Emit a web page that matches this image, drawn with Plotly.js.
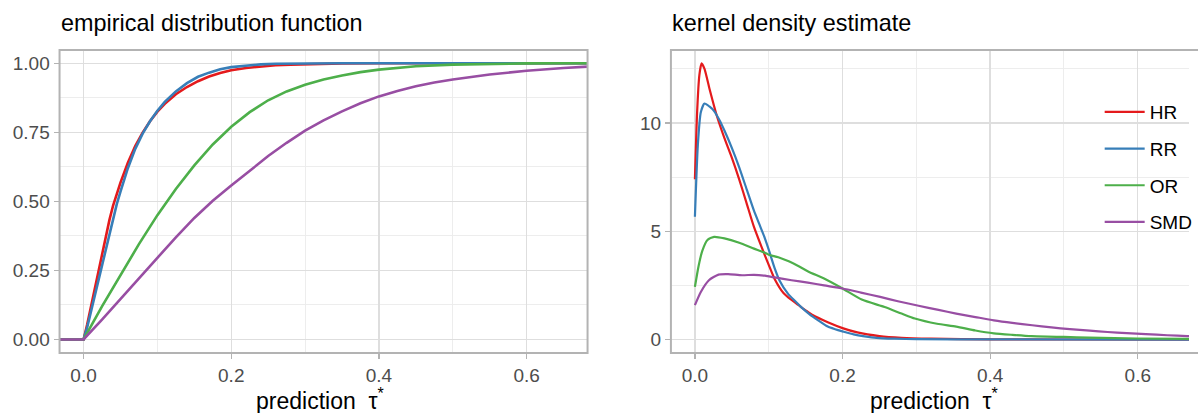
<!DOCTYPE html>
<html><head><meta charset="utf-8">
<script src="https://cdn.plot.ly/plotly-3.0.0.min.js"></script>
<style>html,body{margin:0;padding:0;background:#fff}#chart{width:1198px;height:413px}</style>
</head><body><div id="chart"></div>
<script>
// ---------- data ----------
const seriesNames = ['HR', 'RR', 'OR', 'SMD'];
const seriesColors = ['#E41A1C', '#377EB8', '#4DAF4A', '#984EA3'];

// empirical distribution function (left panel)
const ecdfHR_x = [-0.1, 0, 0.005, 0.01, 0.015, 0.02, 0.025, 0.03, 0.035, 0.04, 0.045, 0.05, 0.06, 0.07, 0.08, 0.09, 0.1, 0.11, 0.125, 0.14, 0.155, 0.17, 0.185, 0.2, 0.22, 0.24, 0.26, 0.28, 0.31, 0.35, 0.4, 0.8];
const ecdfHR_y = [0, 0, 0.055, 0.12, 0.185, 0.25, 0.313, 0.375, 0.432, 0.485, 0.528, 0.568, 0.64, 0.7, 0.749, 0.79, 0.825, 0.853, 0.888, 0.914, 0.935, 0.952, 0.965, 0.975, 0.983, 0.989, 0.993, 0.995, 0.997, 0.999, 1, 1];
const ecdfRR_x = [-0.1, 0, 0.005, 0.01, 0.015, 0.02, 0.025, 0.03, 0.035, 0.04, 0.045, 0.05, 0.06, 0.07, 0.08, 0.09, 0.1, 0.11, 0.125, 0.14, 0.155, 0.17, 0.185, 0.2, 0.22, 0.24, 0.26, 0.28, 0.31, 0.35, 0.8];
const ecdfRR_y = [0, 0, 0.045, 0.1, 0.158, 0.215, 0.272, 0.33, 0.386, 0.44, 0.49, 0.535, 0.62, 0.69, 0.745, 0.79, 0.828, 0.86, 0.898, 0.928, 0.951, 0.966, 0.978, 0.986, 0.992, 0.996, 0.998, 0.999, 1, 1, 1];
const ecdfOR_x = [-0.1, 0, 0.025, 0.05, 0.075, 0.1, 0.125, 0.15, 0.175, 0.2, 0.225, 0.25, 0.275, 0.3, 0.325, 0.35, 0.375, 0.4, 0.425, 0.45, 0.5, 0.55, 0.6, 0.65, 0.8];
const ecdfOR_y = [0, 0, 0.12, 0.235, 0.345, 0.45, 0.545, 0.63, 0.706, 0.77, 0.823, 0.866, 0.898, 0.922, 0.941, 0.956, 0.968, 0.977, 0.984, 0.989, 0.995, 0.998, 0.9995, 1, 1];
const ecdfSMD_x = [-0.1, 0, 0.025, 0.05, 0.075, 0.1, 0.125, 0.15, 0.175, 0.2, 0.225, 0.25, 0.275, 0.3, 0.325, 0.35, 0.375, 0.4, 0.425, 0.45, 0.475, 0.5, 0.55, 0.6, 0.65, 0.7];
const ecdfSMD_y = [0, 0, 0.072, 0.147, 0.222, 0.298, 0.37, 0.44, 0.502, 0.557, 0.612, 0.664, 0.712, 0.756, 0.793, 0.826, 0.855, 0.88, 0.9, 0.917, 0.93, 0.941, 0.959, 0.973, 0.983, 0.99];

// kernel density estimate (right panel)
const kdeHR_x = [0, 0.003, 0.006, 0.009, 0.013, 0.02, 0.03, 0.04, 0.05, 0.06, 0.07, 0.08, 0.09, 0.1, 0.108, 0.12, 0.13, 0.14, 0.15, 0.16, 0.18, 0.2, 0.22, 0.25, 0.28, 0.32, 0.4, 0.5, 0.7];
const kdeHR_y = [7.4, 10.5, 12.2, 12.75, 12.5, 11.55, 10.3, 9.3, 8.4, 7.4, 6.3, 5.2, 4.3, 3.45, 2.8, 2.15, 1.85, 1.6, 1.35, 1.12, 0.8, 0.53, 0.33, 0.16, 0.08, 0.04, 0.01, 0.003, 0.001];
const kdeRR_x = [0, 0.004, 0.008, 0.013, 0.02, 0.026, 0.033, 0.04, 0.05, 0.06, 0.07, 0.08, 0.087, 0.094, 0.1, 0.108, 0.115, 0.126, 0.135, 0.144, 0.155, 0.167, 0.18, 0.19, 0.2, 0.215, 0.23, 0.246, 0.27, 0.3, 0.4, 0.7];
const kdeRR_y = [5.67, 9.0, 10.5, 10.9, 10.75, 10.55, 10.15, 9.65, 8.85, 7.95, 6.95, 5.95, 5.35, 4.75, 4.15, 3.3, 2.7, 2.12, 1.8, 1.5, 1.18, 0.89, 0.6, 0.48, 0.38, 0.24, 0.15, 0.08, 0.04, 0.02, 0.01, 0];
const kdeOR_x = [0, 0.005, 0.01, 0.017, 0.026, 0.04, 0.06, 0.08, 0.092, 0.1, 0.113, 0.128, 0.14, 0.154, 0.175, 0.2, 0.226, 0.257, 0.28, 0.298, 0.328, 0.354, 0.38, 0.405, 0.43, 0.456, 0.5, 0.534, 0.6, 0.7];
const kdeOR_y = [2.43, 3.4, 4.1, 4.6, 4.74, 4.67, 4.47, 4.2, 4.05, 3.92, 3.8, 3.6, 3.4, 3.13, 2.82, 2.36, 1.85, 1.5, 1.2, 0.97, 0.73, 0.6, 0.42, 0.29, 0.22, 0.16, 0.12, 0.09, 0.05, 0.03];
const kdeSMD_x = [0, 0.008, 0.019, 0.032, 0.045, 0.064, 0.08, 0.095, 0.108, 0.131, 0.153, 0.175, 0.2, 0.225, 0.251, 0.275, 0.303, 0.33, 0.354, 0.38, 0.405, 0.43, 0.457, 0.483, 0.508, 0.535, 0.559, 0.585, 0.611, 0.64, 0.667, 0.7];
const kdeSMD_y = [1.59, 2.2, 2.74, 3.0, 3.02, 2.97, 2.99, 2.95, 2.87, 2.74, 2.63, 2.5, 2.36, 2.17, 1.97, 1.77, 1.56, 1.37, 1.2, 1.04, 0.89, 0.77, 0.66, 0.56, 0.48, 0.41, 0.35, 0.3, 0.25, 0.2, 0.16, 0.12];

const xTickVals = [0, 0.2, 0.4, 0.6];
const xTickText = ['0.0', '0.2', '0.4', '0.6'];
const ecdfTickVals = [0, 0.25, 0.5, 0.75, 1];
const ecdfTickText = ['0.00', '0.25', '0.50', '0.75', '1.00'];
const kdeTickVals = [0, 5, 10];
const kdeTickText = ['0', '5', '10'];

const panelTitles = ['empirical distribution function', 'kernel density estimate'];
const xTitle = 'prediction\u00a0\u00a0\u03c4<sup>*</sup>';

// ---------- build ----------
const ecdfX = [ecdfHR_x, ecdfRR_x, ecdfOR_x, ecdfSMD_x];
const ecdfY = [ecdfHR_y, ecdfRR_y, ecdfOR_y, ecdfSMD_y];
const kdeX = [kdeHR_x, kdeRR_x, kdeOR_x, kdeSMD_x];
const kdeY = [kdeHR_y, kdeRR_y, kdeOR_y, kdeSMD_y];

const FONT = 'Liberation Sans, Arial, Helvetica, sans-serif';
const traces = [];
seriesNames.forEach((n, i) => {
  traces.push({
    x: ecdfX[i], y: ecdfY[i], xaxis: 'x', yaxis: 'y', type: 'scatter', mode: 'lines',
    name: n, legendgroup: n, showlegend: false,
    line: {color: seriesColors[i], width: 2.6, shape: 'linear'}
  });
});
seriesNames.forEach((n, i) => {
  traces.push({
    x: kdeX[i], y: kdeY[i], xaxis: 'x2', yaxis: 'y2', type: 'scatter', mode: 'lines',
    name: n, legendgroup: n, showlegend: true,
    line: {color: seriesColors[i], width: 2.2, shape: 'spline', smoothing: 0.6}
  });
});

const W = 1198, H = 413, mT = 50, mB = 60;
const plotH = H - mT - mB;
const gridMajor = '#dedede', gridMinor = '#ebebeb', borderCol = '#b3b3b3';
const TICKFONT = {family: FONT, size: 19, color: '#4d4d4d'};

function xAxis(domain, range, anchor) {
  return {
    domain: domain, range: range, anchor: anchor,
    tickmode: 'array', tickvals: xTickVals, ticktext: xTickText,
    ticks: 'outside', ticklen: 5, tickwidth: 1.2, tickcolor: borderCol,
    tickfont: TICKFONT,
    showgrid: true, gridcolor: gridMajor, gridwidth: 1.4, zeroline: false, showline: false,
    minor: {tickmode: 'linear', tick0: 0, dtick: 0.1, showgrid: true, gridcolor: gridMinor, gridwidth: 0.9, ticks: ''},
    fixedrange: true
  };
}
function yAxis(range, anchor, vals, text, minorD) {
  return {
    domain: [0, 1], range: range, anchor: anchor,
    tickmode: 'array', tickvals: vals, ticktext: text,
    ticks: 'outside', ticklen: 5, tickwidth: 1.2, tickcolor: borderCol,
    tickfont: TICKFONT,
    showgrid: true, gridcolor: gridMajor, gridwidth: 1.4, zeroline: false, showline: false,
    minor: {tickmode: 'linear', tick0: 0, dtick: minorD, showgrid: true, gridcolor: gridMinor, gridwidth: 0.9, ticks: ''},
    fixedrange: true
  };
}

const leftL = 60, leftR = 592, rightL = 676;
const xPx = (px) => px / W;
const yPx = (py) => (H - mB - py) / plotH;

const layout = {
  width: W, height: H,
  margin: {l: 0, r: 0, t: mT, b: mB, pad: 0},
  paper_bgcolor: '#ffffff', plot_bgcolor: '#ffffff',
  font: {family: FONT, color: '#000000'},
  xaxis: xAxis([xPx(leftL), xPx(leftR)], [-0.0325, 0.6825], 'y'),
  yaxis: yAxis([-0.049, 1.048], 'x', ecdfTickVals, ecdfTickText, 0.125),
  xaxis2: xAxis([xPx(rightL), 1], [-0.0325, 0.6694], 'y2'),
  yaxis2: yAxis([-0.62, 13.37], 'x2', kdeTickVals, kdeTickText, 2.5),
  showlegend: true,
  legend: {
    x: xPx(1108), xanchor: 'left', y: yPx(93), yanchor: 'top',
    bgcolor: 'rgba(0,0,0,0)', borderwidth: 0,
    font: {family: FONT, size: 19, color: '#000000'},
    tracegroupgap: 9, itemwidth: 40, traceorder: 'grouped'
  },
  shapes: [
    {type: 'rect', xref: 'x domain', yref: 'y domain', x0: 0, x1: 1, y0: 0, y1: 1,
     line: {color: borderCol, width: 2}, fillcolor: 'rgba(0,0,0,0)', layer: 'above'},
    {type: 'rect', xref: 'x2 domain', yref: 'y2 domain', x0: 0, x1: 1.05, y0: 0, y1: 1,
     line: {color: borderCol, width: 2}, fillcolor: 'rgba(0,0,0,0)', layer: 'above'}
  ],
  annotations: [
    {text: panelTitles[0], xref: 'paper', yref: 'paper', x: xPx(leftL - 1), y: yPx(23), xanchor: 'left', yanchor: 'middle',
     showarrow: false, font: {family: FONT, size: 23.4, color: '#000000'}},
    {text: panelTitles[1], xref: 'paper', yref: 'paper', x: xPx(rightL - 1), y: yPx(23), xanchor: 'left', yanchor: 'middle',
     showarrow: false, font: {family: FONT, size: 23.4, color: '#000000'}},
    {text: xTitle, xref: 'paper', yref: 'paper', x: xPx((leftL + leftR) / 2 - 3), y: yPx(399), xanchor: 'center', yanchor: 'middle',
     showarrow: false, font: {family: FONT, size: 23, color: '#000000'}},
    {text: xTitle, xref: 'paper', yref: 'paper', x: xPx(rightL + (leftR - leftL) / 2), y: yPx(399), xanchor: 'center', yanchor: 'middle',
     showarrow: false, font: {family: FONT, size: 23, color: '#000000'}}
  ]
};

Plotly.newPlot('chart', traces, layout, {staticPlot: true, displayModeBar: false});
</script>
</body></html>
